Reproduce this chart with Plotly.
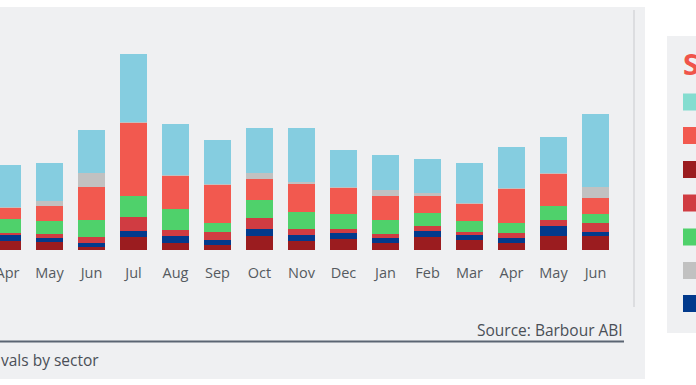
import plotly.graph_objects as go

months = ["Apr", "May", "Jun", "Jul", "Aug", "Sep", "Oct", "Nov", "Dec",
          "Jan", "Feb", "Mar", "Apr", "May", "Jun"]

# stacked series, bottom to top
s_darkred = [9, 8.3, 3.3, 13.3, 6.7, 5, 14.3, 9.3, 10.7, 7.3, 13.3, 10, 6.7, 14.3, 14.3]
s_navy = [5.7, 4, 3.3, 6, 7.3, 5, 6.7, 5.3, 6.7, 4.3, 6, 4.7, 5, 10, 4]
s_red = [2, 3.7, 6.7, 13.3, 5.7, 7.7, 11.3, 6.3, 3.3, 4, 5, 3.3, 5.7, 5.7, 8.3]
s_green = [14, 13, 16.7, 21.7, 21, 9.7, 17.7, 17.3, 15, 14.3, 13, 11, 10, 14, 9]
s_salmon = [11.6, 15, 33.3, 73, 33.3, 37.7, 21, 27.7, 26, 24.3, 16.7, 16.7, 33.7, 31.7, 16]
s_gray = [0.5, 5, 13.3, 1, 1, 1, 5.7, 2.3, 1, 6.3, 2.7, 1, 1.3, 1, 11.7]
s_lightblue = [42.7, 38.3, 43.3, 67.7, 51, 44, 45.7, 54, 37.3, 34.3, 34, 40, 40.3, 36.7, 72.7]

series = [
    ("Series 3", s_darkred, "#9b1c1f"),
    ("Series 7", s_navy, "#023a8c"),
    ("Series 4", s_red, "#d03c42"),
    ("Series 5", s_green, "#4fd16b"),
    ("Series 2", s_salmon, "#f2594f"),
    ("Series 6", s_gray, "#c1c1c1"),
    ("Series 1", s_lightblue, "#85cde0"),
]
legend_colors = ["#84ddd0", "#f2594f", "#9b1c1f", "#d03c42", "#4fd16b", "#c1c1c1", "#023a8c"]

W, H = 696, 385
PL, PR, PT, PB = 0, 634, 10, 250  # plot area in px


def px(x):
    return (x - PL) / (PR - PL)


def py(y):
    return (PB - y) / (PB - PT)


x = list(range(len(months)))
fig = go.Figure()
for name, vals, col in series:
    fig.add_trace(go.Bar(x=x, y=vals, name=name, marker=dict(color=col, line=dict(width=0)),
                         hoverinfo="skip"))

font = "Open Sans"
shapes = [
    # main panel
    dict(type="rect", xref="paper", yref="paper", x0=px(-5), x1=px(645), y0=py(379), y1=py(7),
         fillcolor="#eff0f2", line=dict(width=0), layer="below"),
    # legend panel
    dict(type="rect", xref="paper", yref="paper", x0=px(667), x1=px(710), y0=py(333), y1=py(36),
         fillcolor="#eff0f2", line=dict(width=0), layer="below"),
    # right vertical rule
    dict(type="line", xref="paper", yref="paper", x0=px(634), x1=px(634), y0=py(307), y1=py(10),
         line=dict(color="#dcdde0", width=2), layer="below"),
    # bottom rule
    dict(type="line", xref="paper", yref="paper", x0=px(-5), x1=px(624), y0=py(341.5), y1=py(341.5),
         line=dict(color="#5b6573", width=2)),
]
centers = [102, 135.5, 169.5, 203, 237, 270.5, 303.5]
for c, col in zip(centers, legend_colors):
    shapes.append(dict(type="rect", xref="paper", yref="paper", x0=px(683), x1=px(702),
                       y0=py(c + 8.5), y1=py(c - 8.5), fillcolor=col, line=dict(width=0)))

annotations = [
    dict(text="Source: Barbour ABI", xref="paper", yref="paper", x=px(625), y=py(330),
         xanchor="right", yanchor="middle", showarrow=False,
         font=dict(family=font, size=15.5, color="#4a4f57")),
    dict(text="vals by sector", xref="paper", yref="paper", x=px(-1), y=py(360),
         xanchor="left", yanchor="middle", showarrow=False,
         font=dict(family=font, size=15.5, color="#4a4f57")),
    dict(text="<b>S</b>", xref="paper", yref="paper", x=px(681), y=py(64),
         xanchor="left", yanchor="middle", showarrow=False,
         font=dict(family=font, size=29, color="#f0544a")),
]

fig.update_layout(
    width=W, height=H,
    margin=dict(l=PL, r=W - PR, t=PT, b=H - PB, pad=0, autoexpand=False),
    barmode="stack", bargap=0.357,
    paper_bgcolor="white", plot_bgcolor="rgba(0,0,0,0)",
    showlegend=False,
    shapes=shapes, annotations=annotations,
    xaxis=dict(range=[-7.5 / 42, -7.5 / 42 + 634 / 42], tickmode="array", tickvals=x, ticktext=months,
               showgrid=False, zeroline=False, showline=False, ticks="outside", ticklen=10,
               ticklabeloverflow="allow",
               tickcolor="rgba(0,0,0,0)", tickfont=dict(family=font, size=14.5, color="#555a60")),
    yaxis=dict(range=[0, 240], visible=False),
)

fig.write_html("out.html", config={"displayModeBar": False, "staticPlot": True},
               post_script="document.body.style.margin='0';document.body.style.overflow='hidden';")
